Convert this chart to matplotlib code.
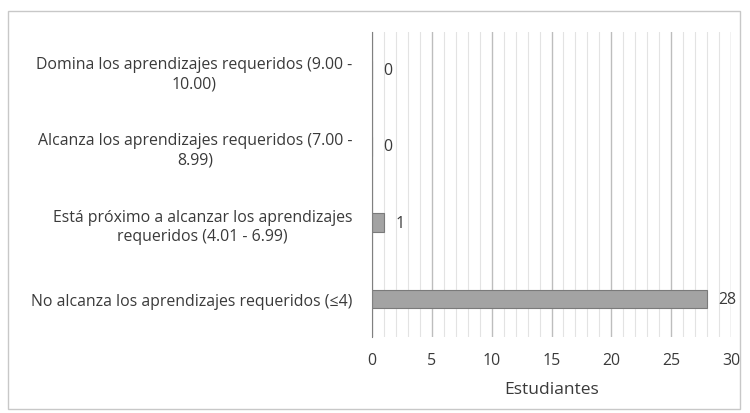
import matplotlib
matplotlib.use("Agg")
import matplotlib.pyplot as plt
from matplotlib.patches import Rectangle
from matplotlib.ticker import MultipleLocator

categorias = [
    "No alcanza los aprendizajes requeridos (≤4)",
    "Está próximo a alcanzar los aprendizajes\nrequeridos (4.01 - 6.99)",
    "Alcanza los aprendizajes requeridos (7.00 -\n8.99)",
    "Domina los aprendizajes requeridos (9.00 -\n10.00)",
]
estudiantes = [28, 1, 0, 0]
xticks = [0, 5, 10, 15, 20, 25, 30]
xlabel = "Estudiantes"

plt.rcParams["font.family"] = ["Open Sans", "DejaVu Sans"]
FS = 11.4
TXT = "#3a3a3a"

fig = plt.figure(figsize=(7.5, 4.14), dpi=100)
fig.patches.append(Rectangle((8 / 750, 4 / 414), 732 / 750, 398 / 414,
                             transform=fig.transFigure, fill=False,
                             edgecolor="#c8c8c8", linewidth=1.0))
ax = fig.add_axes([372 / 750, 76 / 414, 359 / 750, 305 / 414])

y = list(range(len(categorias)))
ax.barh(y, estudiantes, height=0.24, color="#a3a3a3", edgecolor="#7a7a7a",
        linewidth=0.8, zorder=3)
for yi, v in zip(y, estudiantes):
    ax.annotate(str(v), (v, yi), xytext=(8, 0), textcoords="offset points",
                va="center", ha="left", fontsize=FS, color=TXT)

ax.set_xlim(0, 30)
ax.set_ylim(-0.5, 3.5)
ax.set_xticks(xticks)
ax.xaxis.set_minor_locator(MultipleLocator(1))
ax.set_yticks(y)
ax.set_yticklabels(categorias, fontsize=FS, color=TXT,
                   multialignment="center", linespacing=1.3)
ax.tick_params(axis="y", length=0, pad=14)
ax.tick_params(axis="x", which="both", length=0, pad=11, labelsize=FS,
               labelcolor=TXT)
ax.grid(axis="x", which="major", color="#bdbdbd", linewidth=1.0, zorder=0)
ax.grid(axis="x", which="minor", color="#e3e3e3", linewidth=0.8, zorder=0)
for s in ["top", "right", "bottom"]:
    ax.spines[s].set_visible(False)
ax.spines["left"].set_color("#808080")
ax.spines["left"].set_zorder(4)
ax.set_xlabel(xlabel, fontsize=12.5, color=TXT, labelpad=9)

fig.savefig("out.png", dpi=100)
